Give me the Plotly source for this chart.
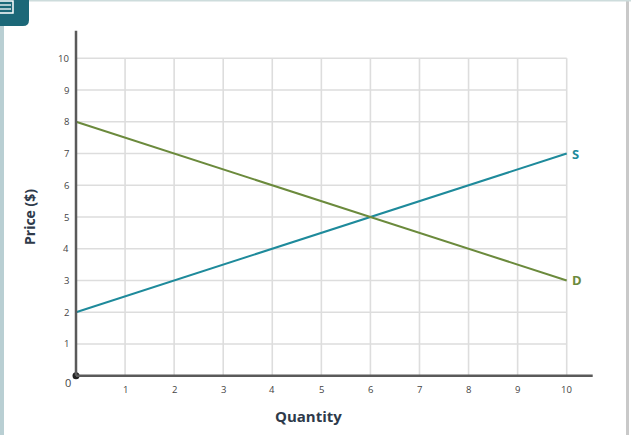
import plotly.graph_objects as go

# Data
quantity = [0, 10]
supply_price = [2, 7]
demand_price = [8, 3]
x_ticks = [1, 2, 3, 4, 5, 6, 7, 8, 9, 10]
y_ticks = [1, 2, 3, 4, 5, 6, 7, 8, 9, 10]

W, H = 631, 435
X0PX, XSC = 76.0, 49.07
Y0PX, YSC = 375.7, 31.74
xr = [-X0PX / XSC, (W - X0PX) / XSC]
yr = [-(H - Y0PX) / YSC, Y0PX / YSC]

SUP = "#1e8a9b"
DEM = "#6b8a3c"
AX = "#5a5a5a"
GRID = "#dddddd"
TXT = "#444444"
FONT = "Open Sans"

fig = go.Figure()

shapes = []
# gridlines limited to [0,10]
for t in x_ticks:
    shapes.append(dict(type="line", xref="x", yref="y", x0=t, x1=t, y0=0, y1=10,
                       line=dict(color=GRID, width=1.6), layer="below"))
for t in y_ticks:
    shapes.append(dict(type="line", xref="x", yref="y", x0=0, x1=10, y0=t, y1=t,
                       line=dict(color=GRID, width=1.6), layer="below"))
# axis lines
shapes.append(dict(type="line", xref="x", yref="y", x0=0, x1=0, y0=0, y1=(Y0PX - 30.7) / YSC,
                   line=dict(color=AX, width=2.5)))
shapes.append(dict(type="line", xref="x", yref="y", x0=0, x1=(592.7 - X0PX) / XSC, y0=0, y1=0,
                   line=dict(color=AX, width=2.5)))
# frame decorations
shapes.append(dict(type="rect", xref="paper", yref="paper", x0=0, x1=4 / W, y0=0, y1=1,
                   line=dict(width=0), fillcolor="#b9cfd3"))
shapes.append(dict(type="rect", xref="paper", yref="paper", x0=626 / W, x1=629 / W, y0=0, y1=1,
                   line=dict(width=0), fillcolor="#c9c9c9"))
shapes.append(dict(type="rect", xref="paper", yref="paper", x0=0, x1=1, y0=1 - 1.5 / H, y1=1,
                   line=dict(width=0), fillcolor="#cddcdc"))
# icon box (rounded bottom-right)
def px(x): return x / W
def py(y): return 1 - y / H
path = (f"M {px(0)},{py(0)} L {px(29)},{py(0)} L {px(29)},{py(20)} "
        f"Q {px(29)},{py(26)} {px(23)},{py(26)} L {px(0)},{py(26)} Z")
shapes.append(dict(type="path", xref="paper", yref="paper", path=path,
                   fillcolor="#1c6878", line=dict(width=0)))
shapes.append(dict(type="rect", xref="paper", yref="paper", x0=px(-2), x1=px(13), y0=py(13), y1=py(1),
                   line=dict(color="white", width=1.5), fillcolor="rgba(0,0,0,0)"))
for yy in [5, 9]:
    shapes.append(dict(type="line", xref="paper", yref="paper", x0=px(0), x1=px(11), y0=py(yy), y1=py(yy),
                       line=dict(color="white", width=1.3)))

fig.add_trace(go.Scatter(x=quantity, y=supply_price, mode="lines",
                         line=dict(color=SUP, width=2), hoverinfo="skip", showlegend=False))
fig.add_trace(go.Scatter(x=quantity, y=demand_price, mode="lines",
                         line=dict(color=DEM, width=2), hoverinfo="skip", showlegend=False))
fig.add_trace(go.Scatter(x=[0], y=[0], mode="markers",
                         marker=dict(color="#222222", size=7), hoverinfo="skip", showlegend=False))

ann = []
for t in x_ticks:
    ann.append(dict(x=t, y=0, xref="x", yref="y", text=str(t), showarrow=False,
                    yshift=-14, font=dict(family=FONT, size=9.5, color=TXT)))
for t in y_ticks:
    ann.append(dict(x=0, y=t, xref="x", yref="y", text=str(t), showarrow=False,
                    xanchor="right", xshift=-5, font=dict(family=FONT, size=9.5, color=TXT)))
ann.append(dict(x=0, y=0, xref="x", yref="y", text="0", showarrow=False,
                xshift=-8, yshift=-7, font=dict(family=FONT, size=11, color=TXT)))
ann.append(dict(x=px(29), y=py(217), xref="paper", yref="paper", text="<b>Price ($)</b>",
                xanchor="center", yanchor="middle",
                showarrow=False, textangle=-90, font=dict(family=FONT, size=14, color="#2e3a4a")))
ann.append(dict(x=px(308), y=py(416), xref="paper", yref="paper", text="<b>Quantity</b>",
                xanchor="center", yanchor="middle",
                showarrow=False, font=dict(family=FONT, size=15, color="#2e3a4a")))
ann.append(dict(x=quantity[-1], y=supply_price[-1], xref="x", yref="y", text="<b>S</b>",
                showarrow=False, xanchor="left", xshift=3, font=dict(family=FONT, size=13, color=SUP)))
ann.append(dict(x=quantity[-1], y=demand_price[-1], xref="x", yref="y", text="<b>D</b>",
                showarrow=False, xanchor="left", xshift=3, font=dict(family=FONT, size=13, color=DEM)))

fig.update_layout(
    width=W, height=H, margin=dict(l=0, r=0, t=0, b=0),
    paper_bgcolor="white", plot_bgcolor="white",
    xaxis=dict(range=xr, visible=False, fixedrange=True),
    yaxis=dict(range=yr, visible=False, fixedrange=True),
    shapes=shapes, annotations=ann,
)
fig.write_html("out.html", config={"displayModeBar": False},
               post_script="document.body.style.margin='0';document.body.style.overflow='hidden';")
